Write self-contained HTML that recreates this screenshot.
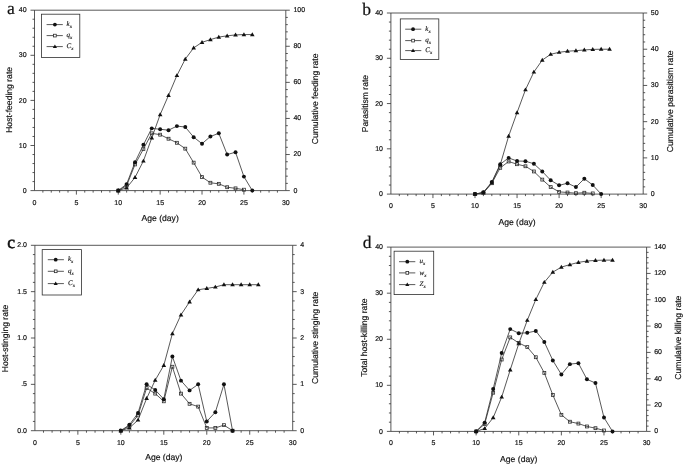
<!DOCTYPE html>
<html lang="en"><head><meta charset="utf-8"><title>Figure</title>
<style>
html,body{margin:0;padding:0;background:#fff;}
body{width:685px;height:467px;overflow:hidden;}
svg{display:block;filter:grayscale(1);}
text{font-family:"Liberation Sans",Arial,sans-serif;fill:#151515;text-rendering:geometricPrecision;}
.tk text{font-size:7.0px;stroke:#151515;stroke-width:.2px;}
.ax text{font-size:8.6px;stroke:#151515;stroke-width:.18px;}
.pl{font-family:"Liberation Serif","Times New Roman",serif;font-size:17.6px;fill:#111;stroke:#111;stroke-width:.2px;}
.lg{font-family:"Liberation Serif","Times New Roman",serif;font-style:italic;font-size:7px;stroke:#151515;stroke-width:.15px;}
.sb{font-size:5px;}
</style></head><body>
<svg width="685" height="467" viewBox="0 0 685 467">
<rect width="685" height="467" fill="#fff"/>
<g stroke="#2e2e2e" stroke-width="0.8" fill="none">
<path d="M34.5 10.2 V190.6 H285.8 V10.2 Z"/>
<path d="M42.88 190.6v2M51.25 190.6v2M59.63 190.6v2M68.01 190.6v2M76.38 190.6v4M84.76 190.6v2M93.14 190.6v2M101.51 190.6v2M109.89 190.6v2M118.27 190.6v4M126.64 190.6v2M135.02 190.6v2M143.4 190.6v2M151.77 190.6v2M160.15 190.6v4M168.53 190.6v2M176.9 190.6v2M185.28 190.6v2M193.66 190.6v2M202.03 190.6v4M210.41 190.6v2M218.79 190.6v2M227.16 190.6v2M235.54 190.6v2M243.92 190.6v4M252.29 190.6v2M260.67 190.6v2M269.05 190.6v2M277.42 190.6v2M34.5 190.6h-4M34.5 181.58h-2M34.5 172.56h-2M34.5 163.54h-2M34.5 154.52h-2M34.5 145.5h-4M34.5 136.48h-2M34.5 127.46h-2M34.5 118.44h-2M34.5 109.42h-2M34.5 100.4h-4M34.5 91.38h-2M34.5 82.36h-2M34.5 73.34h-2M34.5 64.32h-2M34.5 55.3h-4M34.5 46.28h-2M34.5 37.26h-2M34.5 28.24h-2M34.5 19.22h-2M34.5 10.2h-4M285.8 190.6h4M285.8 183.38h2M285.8 176.17h2M285.8 168.95h2M285.8 161.74h2M285.8 154.52h4M285.8 147.3h2M285.8 140.09h2M285.8 132.87h2M285.8 125.66h2M285.8 118.44h4M285.8 111.22h2M285.8 104.01h2M285.8 96.79h2M285.8 89.58h2M285.8 82.36h4M285.8 75.14h2M285.8 67.93h2M285.8 60.71h2M285.8 53.5h2M285.8 46.28h4M285.8 39.06h2M285.8 31.85h2M285.8 24.63h2M285.8 17.42h2M285.8 10.2h4"/>
</g>
<g class="tk">
<text x="34.5" y="204.8" text-anchor="middle">0</text>
<text x="76.38" y="204.8" text-anchor="middle">5</text>
<text x="118.27" y="204.8" text-anchor="middle">10</text>
<text x="160.15" y="204.8" text-anchor="middle">15</text>
<text x="202.03" y="204.8" text-anchor="middle">20</text>
<text x="243.92" y="204.8" text-anchor="middle">25</text>
<text x="285.8" y="204.8" text-anchor="middle">30</text>
<text x="26.6" y="192.7" text-anchor="end">0</text>
<text x="26.6" y="147.6" text-anchor="end">10</text>
<text x="26.6" y="102.5" text-anchor="end">20</text>
<text x="26.6" y="57.4" text-anchor="end">30</text>
<text x="26.6" y="12.3" text-anchor="end">40</text>
<text x="293.4" y="192.5">0</text>
<text x="293.4" y="156.42">20</text>
<text x="293.4" y="120.34">40</text>
<text x="293.4" y="84.26">60</text>
<text x="293.4" y="48.18">80</text>
<text x="293.4" y="12.1">100</text>
</g>
<g class="ax">
<text x="160.15" y="221" text-anchor="middle">Age (day)</text>
<text transform="translate(11.5 99.9) rotate(-90)" text-anchor="middle">Host-feeding rate</text>
<text transform="translate(317.5 98.9) rotate(-90)" text-anchor="middle">Cumulative feeding rate</text>
</g>
<text class="pl" x="7" y="14.4">a</text>
<g stroke="#2e2e2e" stroke-width="0.8" fill="none" stroke-linejoin="round">
<polyline points="118.27,190.6 126.64,187.89 135.02,177.43 143.4,161.01 151.77,137.92 160.15,114.65 168.53,95.35 176.9,75.5 185.28,59.09 193.66,47.9 202.03,42.31 210.41,39.61 218.79,37.08 227.16,35.82 235.54,34.91 243.92,34.55 252.29,34.55"/>
<polyline points="118.27,190.6 126.64,185.64 135.02,164.44 143.4,149.11 151.77,133.32 160.15,134.68 168.53,138.74 176.9,142.79 185.28,148.66 193.66,162.64 202.03,177.07 210.41,182.75 218.79,183.83 227.16,187.22 235.54,188.34 243.92,189.7"/>
<polyline points="118.27,190.6 126.64,184.11 135.02,162.19 143.4,144.82 151.77,128.36 160.15,129.26 168.53,130.17 176.9,126.11 185.28,127.01 193.66,137.16 202.03,143.7 210.41,136.48 218.79,133.32 227.16,154.52 235.54,152.26 243.92,176.62 252.29,190.6"/>
</g>
<g fill="#111">
<path d="M118.27 188.23l2.32 3.94h-4.64z"/>
<path d="M126.64 185.53l2.32 3.94h-4.64z"/>
<path d="M135.02 175.06l2.32 3.94h-4.64z"/>
<path d="M143.4 158.65l2.32 3.94h-4.64z"/>
<path d="M151.77 135.56l2.32 3.94h-4.64z"/>
<path d="M160.15 112.29l2.32 3.94h-4.64z"/>
<path d="M168.53 92.98l2.32 3.94h-4.64z"/>
<path d="M176.9 73.14l2.32 3.94h-4.64z"/>
<path d="M185.28 56.72l2.32 3.94h-4.64z"/>
<path d="M193.66 45.54l2.32 3.94h-4.64z"/>
<path d="M202.03 39.94l2.32 3.94h-4.64z"/>
<path d="M210.41 37.24l2.32 3.94h-4.64z"/>
<path d="M218.79 34.71l2.32 3.94h-4.64z"/>
<path d="M227.16 33.45l2.32 3.94h-4.64z"/>
<path d="M235.54 32.55l2.32 3.94h-4.64z"/>
<path d="M243.92 32.19l2.32 3.94h-4.64z"/>
<path d="M252.29 32.19l2.32 3.94h-4.64z"/>
</g><g fill="none" stroke="#2e2e2e" stroke-width="0.8">
<rect x="116.82" y="189.15" width="2.9" height="2.9"/>
<rect x="125.19" y="184.19" width="2.9" height="2.9"/>
<rect x="133.57" y="162.99" width="2.9" height="2.9"/>
<rect x="141.95" y="147.66" width="2.9" height="2.9"/>
<rect x="150.32" y="131.87" width="2.9" height="2.9"/>
<rect x="158.7" y="133.23" width="2.9" height="2.9"/>
<rect x="167.08" y="137.29" width="2.9" height="2.9"/>
<rect x="175.45" y="141.34" width="2.9" height="2.9"/>
<rect x="183.83" y="147.21" width="2.9" height="2.9"/>
<rect x="192.21" y="161.19" width="2.9" height="2.9"/>
<rect x="200.58" y="175.62" width="2.9" height="2.9"/>
<rect x="208.96" y="181.3" width="2.9" height="2.9"/>
<rect x="217.34" y="182.38" width="2.9" height="2.9"/>
<rect x="225.71" y="185.77" width="2.9" height="2.9"/>
<rect x="234.09" y="186.9" width="2.9" height="2.9"/>
<rect x="242.47" y="188.25" width="2.9" height="2.9"/>
</g><g fill="#111">
<circle cx="118.27" cy="190.6" r="1.98"/>
<circle cx="126.64" cy="184.11" r="1.98"/>
<circle cx="135.02" cy="162.19" r="1.98"/>
<circle cx="143.4" cy="144.82" r="1.98"/>
<circle cx="151.77" cy="128.36" r="1.98"/>
<circle cx="160.15" cy="129.26" r="1.98"/>
<circle cx="168.53" cy="130.17" r="1.98"/>
<circle cx="176.9" cy="126.11" r="1.98"/>
<circle cx="185.28" cy="127.01" r="1.98"/>
<circle cx="193.66" cy="137.16" r="1.98"/>
<circle cx="202.03" cy="143.7" r="1.98"/>
<circle cx="210.41" cy="136.48" r="1.98"/>
<circle cx="218.79" cy="133.32" r="1.98"/>
<circle cx="227.16" cy="154.52" r="1.98"/>
<circle cx="235.54" cy="152.26" r="1.98"/>
<circle cx="243.92" cy="176.62" r="1.98"/>
<circle cx="252.29" cy="190.6" r="1.98"/>
</g>
<rect x="41.4" y="14.2" width="38.4" height="43.2" fill="#fff" stroke="#2e2e2e" stroke-width="0.8"/>
<path d="M46.6 24.6H62.8" stroke="#2e2e2e" stroke-width="0.8"/>
<g fill="#111"><circle cx="54.9" cy="24.6" r="1.9"/></g>
<text class="lg" x="66.6" y="26.2">k<tspan class="sb" dy="2.1">x</tspan></text>
<path d="M46.6 35.6H62.8" stroke="#2e2e2e" stroke-width="0.8"/>
<g fill="#fff" stroke="#2e2e2e" stroke-width="0.8"><rect x="53.55" y="34.25" width="2.7" height="2.7"/></g>
<text class="lg" x="66.6" y="37.2">q<tspan class="sb" dy="2.1">x</tspan></text>
<path d="M46.6 46.6H62.8" stroke="#2e2e2e" stroke-width="0.8"/>
<g fill="#111"><path d="M54.9 44.48l2.08 3.54h-4.16z"/></g>
<text class="lg" x="66.6" y="48.2">C<tspan class="sb" dy="2.1">x</tspan></text>
<g stroke="#2e2e2e" stroke-width="0.8" fill="none">
<path d="M390.9 13 V194.1 H643.2 V13 Z"/>
<path d="M399.31 194.1v2M407.72 194.1v2M416.13 194.1v2M424.54 194.1v2M432.95 194.1v4M441.36 194.1v2M449.77 194.1v2M458.18 194.1v2M466.59 194.1v2M475 194.1v4M483.41 194.1v2M491.82 194.1v2M500.23 194.1v2M508.64 194.1v2M517.05 194.1v4M525.46 194.1v2M533.87 194.1v2M542.28 194.1v2M550.69 194.1v2M559.1 194.1v4M567.51 194.1v2M575.92 194.1v2M584.33 194.1v2M592.74 194.1v2M601.15 194.1v4M609.56 194.1v2M617.97 194.1v2M626.38 194.1v2M634.79 194.1v2M390.9 194.1h-4M390.9 185.04h-2M390.9 175.99h-2M390.9 166.94h-2M390.9 157.88h-2M390.9 148.82h-4M390.9 139.77h-2M390.9 130.71h-2M390.9 121.66h-2M390.9 112.61h-2M390.9 103.55h-4M390.9 94.5h-2M390.9 85.44h-2M390.9 76.39h-2M390.9 67.33h-2M390.9 58.28h-4M390.9 49.22h-2M390.9 40.16h-2M390.9 31.11h-2M390.9 22.05h-2M390.9 13h-4M643.2 194.1h4M643.2 186.86h2M643.2 179.61h2M643.2 172.37h2M643.2 165.12h2M643.2 157.88h4M643.2 150.64h2M643.2 143.39h2M643.2 136.15h2M643.2 128.9h2M643.2 121.66h4M643.2 114.42h2M643.2 107.17h2M643.2 99.93h2M643.2 92.68h2M643.2 85.44h4M643.2 78.2h2M643.2 70.95h2M643.2 63.71h2M643.2 56.46h2M643.2 49.22h4M643.2 41.98h2M643.2 34.73h2M643.2 27.49h2M643.2 20.24h2M643.2 13h4"/>
</g>
<g class="tk">
<text x="390.9" y="208" text-anchor="middle">0</text>
<text x="432.95" y="208" text-anchor="middle">5</text>
<text x="475" y="208" text-anchor="middle">10</text>
<text x="517.05" y="208" text-anchor="middle">15</text>
<text x="559.1" y="208" text-anchor="middle">20</text>
<text x="601.15" y="208" text-anchor="middle">25</text>
<text x="643.2" y="208" text-anchor="middle">30</text>
<text x="383" y="196.2" text-anchor="end">0</text>
<text x="383" y="150.92" text-anchor="end">10</text>
<text x="383" y="105.65" text-anchor="end">20</text>
<text x="383" y="60.38" text-anchor="end">30</text>
<text x="383" y="15.1" text-anchor="end">40</text>
<text x="650.8" y="196">0</text>
<text x="650.8" y="159.78">10</text>
<text x="650.8" y="123.56">20</text>
<text x="650.8" y="87.34">30</text>
<text x="650.8" y="51.12">40</text>
<text x="650.8" y="14.9">50</text>
</g>
<g class="ax">
<text x="517.05" y="224.5" text-anchor="middle">Age (day)</text>
<text transform="translate(367.7 103.5) rotate(-90)" text-anchor="middle">Parasitism rate</text>
<text transform="translate(672.7 101.3) rotate(-90)" text-anchor="middle">Cumulative parasitism rate</text>
</g>
<text class="pl" x="362.2" y="14.9">b</text>
<g stroke="#2e2e2e" stroke-width="0.8" fill="none" stroke-linejoin="round">
<polyline points="475,194.1 483.41,192.65 491.82,182.87 500.23,164.76 508.64,136.15 517.05,112.6 525.46,89.79 533.87,72.04 542.28,60.09 550.69,54.29 559.1,52.3 567.51,51.21 575.92,50.67 584.33,49.94 592.74,49.4 601.15,49.22 609.56,49.22"/>
<polyline points="475,194.1 483.41,192.74 491.82,183.23 500.23,167.84 508.64,161.5 517.05,164.22 525.46,166.26 533.87,171.46 542.28,179.61 550.69,187.08 559.1,191.84 567.51,192.52 575.92,193.19 584.33,192.74 592.74,193.42"/>
<polyline points="475,194.1 483.41,192.33 491.82,182.06 500.23,164.22 508.64,157.88 517.05,161.05 525.46,161.19 533.87,163.77 542.28,171.46 550.69,180.29 559.1,185.32 567.51,183.23 575.92,187.08 584.33,178.71 592.74,185.04 601.15,194.1"/>
</g>
<g fill="#111">
<path d="M475 191.73l2.32 3.94h-4.64z"/>
<path d="M483.41 190.28l2.32 3.94h-4.64z"/>
<path d="M491.82 180.51l2.32 3.94h-4.64z"/>
<path d="M500.23 162.4l2.32 3.94h-4.64z"/>
<path d="M508.64 133.78l2.32 3.94h-4.64z"/>
<path d="M517.05 110.24l2.32 3.94h-4.64z"/>
<path d="M525.46 87.42l2.32 3.94h-4.64z"/>
<path d="M533.87 69.67l2.32 3.94h-4.64z"/>
<path d="M542.28 57.72l2.32 3.94h-4.64z"/>
<path d="M550.69 51.92l2.32 3.94h-4.64z"/>
<path d="M559.1 49.93l2.32 3.94h-4.64z"/>
<path d="M567.51 48.85l2.32 3.94h-4.64z"/>
<path d="M575.92 48.3l2.32 3.94h-4.64z"/>
<path d="M584.33 47.58l2.32 3.94h-4.64z"/>
<path d="M592.74 47.03l2.32 3.94h-4.64z"/>
<path d="M601.15 46.85l2.32 3.94h-4.64z"/>
<path d="M609.56 46.85l2.32 3.94h-4.64z"/>
</g><g fill="none" stroke="#2e2e2e" stroke-width="0.8">
<rect x="473.55" y="192.65" width="2.9" height="2.9"/>
<rect x="481.96" y="191.29" width="2.9" height="2.9"/>
<rect x="490.37" y="181.78" width="2.9" height="2.9"/>
<rect x="498.78" y="166.39" width="2.9" height="2.9"/>
<rect x="507.19" y="160.05" width="2.9" height="2.9"/>
<rect x="515.6" y="162.77" width="2.9" height="2.9"/>
<rect x="524.01" y="164.81" width="2.9" height="2.9"/>
<rect x="532.42" y="170.01" width="2.9" height="2.9"/>
<rect x="540.83" y="178.16" width="2.9" height="2.9"/>
<rect x="549.24" y="185.63" width="2.9" height="2.9"/>
<rect x="557.65" y="190.39" width="2.9" height="2.9"/>
<rect x="566.06" y="191.07" width="2.9" height="2.9"/>
<rect x="574.47" y="191.74" width="2.9" height="2.9"/>
<rect x="582.88" y="191.29" width="2.9" height="2.9"/>
<rect x="591.29" y="191.97" width="2.9" height="2.9"/>
</g><g fill="#111">
<circle cx="475" cy="194.1" r="1.98"/>
<circle cx="483.41" cy="192.33" r="1.98"/>
<circle cx="491.82" cy="182.06" r="1.98"/>
<circle cx="500.23" cy="164.22" r="1.98"/>
<circle cx="508.64" cy="157.88" r="1.98"/>
<circle cx="517.05" cy="161.05" r="1.98"/>
<circle cx="525.46" cy="161.19" r="1.98"/>
<circle cx="533.87" cy="163.77" r="1.98"/>
<circle cx="542.28" cy="171.46" r="1.98"/>
<circle cx="550.69" cy="180.29" r="1.98"/>
<circle cx="559.1" cy="185.32" r="1.98"/>
<circle cx="567.51" cy="183.23" r="1.98"/>
<circle cx="575.92" cy="187.08" r="1.98"/>
<circle cx="584.33" cy="178.71" r="1.98"/>
<circle cx="592.74" cy="185.04" r="1.98"/>
<circle cx="601.15" cy="194.1" r="1.98"/>
</g>
<rect x="400.3" y="18.9" width="38.5" height="40.6" fill="#fff" stroke="#2e2e2e" stroke-width="0.8"/>
<path d="M405.2 29.2H421.3" stroke="#2e2e2e" stroke-width="0.8"/>
<g fill="#111"><circle cx="413.05" cy="29.2" r="1.9"/></g>
<text class="lg" x="425.3" y="30.8">k<tspan class="sb" dy="2.1">x</tspan></text>
<path d="M405.2 40.6H421.3" stroke="#2e2e2e" stroke-width="0.8"/>
<g fill="#fff" stroke="#2e2e2e" stroke-width="0.8"><rect x="411.7" y="39.25" width="2.7" height="2.7"/></g>
<text class="lg" x="425.3" y="42.2">q<tspan class="sb" dy="2.1">x</tspan></text>
<path d="M405.2 50.6H421.3" stroke="#2e2e2e" stroke-width="0.8"/>
<g fill="#111"><path d="M413.05 48.48l2.08 3.54h-4.16z"/></g>
<text class="lg" x="425.3" y="52.2">C<tspan class="sb" dy="2.1">x</tspan></text>
<g stroke="#2e2e2e" stroke-width="0.8" fill="none">
<path d="M34.9 245.3 V430.7 H292.7 V245.3 Z"/>
<path d="M43.49 430.7v2M52.09 430.7v2M60.68 430.7v2M69.27 430.7v2M77.87 430.7v4M86.46 430.7v2M95.05 430.7v2M103.65 430.7v2M112.24 430.7v2M120.83 430.7v4M129.43 430.7v2M138.02 430.7v2M146.61 430.7v2M155.21 430.7v2M163.8 430.7v4M172.39 430.7v2M180.99 430.7v2M189.58 430.7v2M198.17 430.7v2M206.77 430.7v4M215.36 430.7v2M223.95 430.7v2M232.55 430.7v2M241.14 430.7v2M249.73 430.7v4M258.33 430.7v2M266.92 430.7v2M275.51 430.7v2M284.11 430.7v2M34.9 430.7h-4M34.9 421.43h-2M34.9 412.16h-2M34.9 402.89h-2M34.9 393.62h-2M34.9 384.35h-4M34.9 375.08h-2M34.9 365.81h-2M34.9 356.54h-2M34.9 347.27h-2M34.9 338h-4M34.9 328.73h-2M34.9 319.46h-2M34.9 310.19h-2M34.9 300.92h-2M34.9 291.65h-4M34.9 282.38h-2M34.9 273.11h-2M34.9 263.84h-2M34.9 254.57h-2M34.9 245.3h-4M292.7 430.7h4M292.7 421.43h2M292.7 412.16h2M292.7 402.89h2M292.7 393.62h2M292.7 384.35h4M292.7 375.08h2M292.7 365.81h2M292.7 356.54h2M292.7 347.27h2M292.7 338h4M292.7 328.73h2M292.7 319.46h2M292.7 310.19h2M292.7 300.92h2M292.7 291.65h4M292.7 282.38h2M292.7 273.11h2M292.7 263.84h2M292.7 254.57h2M292.7 245.3h4"/>
</g>
<g class="tk">
<text x="34.9" y="445" text-anchor="middle">0</text>
<text x="77.87" y="445" text-anchor="middle">5</text>
<text x="120.83" y="445" text-anchor="middle">10</text>
<text x="163.8" y="445" text-anchor="middle">15</text>
<text x="206.77" y="445" text-anchor="middle">20</text>
<text x="249.73" y="445" text-anchor="middle">25</text>
<text x="292.7" y="445" text-anchor="middle">30</text>
<text x="27" y="432.8" text-anchor="end">0.0</text>
<text x="27" y="386.45" text-anchor="end">.5</text>
<text x="27" y="340.1" text-anchor="end">1.0</text>
<text x="27" y="293.75" text-anchor="end">1.5</text>
<text x="27" y="247.4" text-anchor="end">2.0</text>
<text x="300.3" y="432.6">0</text>
<text x="300.3" y="386.25">1</text>
<text x="300.3" y="339.9">2</text>
<text x="300.3" y="293.55">3</text>
<text x="300.3" y="247.2">4</text>
</g>
<g class="ax">
<text x="163.8" y="460.2" text-anchor="middle">Age (day)</text>
<text transform="translate(8.2 338.5) rotate(-90)" text-anchor="middle">Host-stinging rate</text>
<text transform="translate(317.7 337.8) rotate(-90)" text-anchor="middle">Cumulative stinging rate</text>
</g>
<text class="pl" style="stroke-width:.55px" x="7.2" y="247.6">c</text>
<g stroke="#2e2e2e" stroke-width="0.8" fill="none" stroke-linejoin="round">
<polyline points="120.83,430.7 129.43,427.92 138.02,420.04 146.61,398.49 155.21,380.18 163.8,365.35 172.39,333.6 180.99,314.82 189.58,301.85 198.17,289.8 206.77,288.41 215.36,287.01 223.95,284.7 232.55,284.7 241.14,284.7 249.73,284.7 258.33,284.7"/>
<polyline points="120.83,430.7 129.43,426.06 138.02,415.4 146.61,388.06 155.21,393.62 163.8,401.31 172.39,366.74 180.99,393.62 189.58,403.82 198.17,406.6 206.77,427.92 215.36,427.92 223.95,425.14 232.55,430.7"/>
<polyline points="120.83,430.7 129.43,424.77 138.02,413.09 146.61,384.35 155.21,389.91 163.8,399.18 172.39,356.54 180.99,380.64 189.58,390.38 198.17,384.35 206.77,421.43 215.36,412.16 223.95,384.35 232.55,430.7"/>
</g>
<g fill="#111">
<path d="M120.83 428.33l2.32 3.94h-4.64z"/>
<path d="M129.43 425.55l2.32 3.94h-4.64z"/>
<path d="M138.02 417.67l2.32 3.94h-4.64z"/>
<path d="M146.61 396.12l2.32 3.94h-4.64z"/>
<path d="M155.21 377.81l2.32 3.94h-4.64z"/>
<path d="M163.8 362.98l2.32 3.94h-4.64z"/>
<path d="M172.39 331.23l2.32 3.94h-4.64z"/>
<path d="M180.99 312.46l2.32 3.94h-4.64z"/>
<path d="M189.58 299.48l2.32 3.94h-4.64z"/>
<path d="M198.17 287.43l2.32 3.94h-4.64z"/>
<path d="M206.77 286.04l2.32 3.94h-4.64z"/>
<path d="M215.36 284.65l2.32 3.94h-4.64z"/>
<path d="M223.95 282.33l2.32 3.94h-4.64z"/>
<path d="M232.55 282.33l2.32 3.94h-4.64z"/>
<path d="M241.14 282.33l2.32 3.94h-4.64z"/>
<path d="M249.73 282.33l2.32 3.94h-4.64z"/>
<path d="M258.33 282.33l2.32 3.94h-4.64z"/>
</g><g fill="none" stroke="#2e2e2e" stroke-width="0.8">
<rect x="119.38" y="429.25" width="2.9" height="2.9"/>
<rect x="127.98" y="424.62" width="2.9" height="2.9"/>
<rect x="136.57" y="413.95" width="2.9" height="2.9"/>
<rect x="145.16" y="386.61" width="2.9" height="2.9"/>
<rect x="153.76" y="392.17" width="2.9" height="2.9"/>
<rect x="162.35" y="399.86" width="2.9" height="2.9"/>
<rect x="170.94" y="365.29" width="2.9" height="2.9"/>
<rect x="179.54" y="392.17" width="2.9" height="2.9"/>
<rect x="188.13" y="402.37" width="2.9" height="2.9"/>
<rect x="196.72" y="405.15" width="2.9" height="2.9"/>
<rect x="205.32" y="426.47" width="2.9" height="2.9"/>
<rect x="213.91" y="426.47" width="2.9" height="2.9"/>
<rect x="222.5" y="423.69" width="2.9" height="2.9"/>
<rect x="231.1" y="429.25" width="2.9" height="2.9"/>
</g><g fill="#111">
<circle cx="120.83" cy="430.7" r="1.98"/>
<circle cx="129.43" cy="424.77" r="1.98"/>
<circle cx="138.02" cy="413.09" r="1.98"/>
<circle cx="146.61" cy="384.35" r="1.98"/>
<circle cx="155.21" cy="389.91" r="1.98"/>
<circle cx="163.8" cy="399.18" r="1.98"/>
<circle cx="172.39" cy="356.54" r="1.98"/>
<circle cx="180.99" cy="380.64" r="1.98"/>
<circle cx="189.58" cy="390.38" r="1.98"/>
<circle cx="198.17" cy="384.35" r="1.98"/>
<circle cx="206.77" cy="421.43" r="1.98"/>
<circle cx="215.36" cy="412.16" r="1.98"/>
<circle cx="223.95" cy="384.35" r="1.98"/>
<circle cx="232.55" cy="430.7" r="1.98"/>
</g>
<rect x="42.2" y="249.6" width="39.2" height="45.4" fill="#fff" stroke="#2e2e2e" stroke-width="0.8"/>
<path d="M47.8 259.7H63.9" stroke="#2e2e2e" stroke-width="0.8"/>
<g fill="#111"><circle cx="55.7" cy="259.7" r="1.9"/></g>
<text class="lg" x="68" y="261.3">k<tspan class="sb" dy="2.1">x</tspan></text>
<path d="M47.8 271.3H63.9" stroke="#2e2e2e" stroke-width="0.8"/>
<g fill="#fff" stroke="#2e2e2e" stroke-width="0.8"><rect x="54.35" y="269.95" width="2.7" height="2.7"/></g>
<text class="lg" x="68" y="272.9">q<tspan class="sb" dy="2.1">x</tspan></text>
<path d="M47.8 283.6H63.9" stroke="#2e2e2e" stroke-width="0.8"/>
<g fill="#111"><path d="M55.7 281.48l2.08 3.54h-4.16z"/></g>
<text class="lg" x="68" y="285.2">C<tspan class="sb" dy="2.1">x</tspan></text>
<g stroke="#2e2e2e" stroke-width="0.8" fill="none">
<path d="M390.9 247.1 V431.4 H646.6 V247.1 Z"/>
<path d="M399.42 431.4v2M407.95 431.4v2M416.47 431.4v2M424.99 431.4v2M433.52 431.4v4M442.04 431.4v2M450.56 431.4v2M459.09 431.4v2M467.61 431.4v2M476.13 431.4v4M484.66 431.4v2M493.18 431.4v2M501.7 431.4v2M510.23 431.4v2M518.75 431.4v4M527.27 431.4v2M535.8 431.4v2M544.32 431.4v2M552.84 431.4v2M561.37 431.4v4M569.89 431.4v2M578.41 431.4v2M586.94 431.4v2M595.46 431.4v2M603.98 431.4v4M612.51 431.4v2M621.03 431.4v2M629.55 431.4v2M638.08 431.4v2M390.9 431.4h-4M390.9 422.19h-2M390.9 412.97h-2M390.9 403.75h-2M390.9 394.54h-2M390.9 385.32h-4M390.9 376.11h-2M390.9 366.89h-2M390.9 357.68h-2M390.9 348.46h-2M390.9 339.25h-4M390.9 330.03h-2M390.9 320.82h-2M390.9 311.61h-2M390.9 302.39h-2M390.9 293.18h-4M390.9 283.96h-2M390.9 274.75h-2M390.9 265.53h-2M390.9 256.31h-2M390.9 247.1h-4M646.6 431.4h4M646.6 426.13h2M646.6 420.87h2M646.6 415.6h2M646.6 410.34h2M646.6 405.07h4M646.6 399.81h2M646.6 394.54h2M646.6 389.27h2M646.6 384.01h2M646.6 378.74h4M646.6 373.48h2M646.6 368.21h2M646.6 362.95h2M646.6 357.68h2M646.6 352.41h4M646.6 347.15h2M646.6 341.88h2M646.6 336.62h2M646.6 331.35h2M646.6 326.09h4M646.6 320.82h2M646.6 315.55h2M646.6 310.29h2M646.6 305.02h2M646.6 299.76h4M646.6 294.49h2M646.6 289.23h2M646.6 283.96h2M646.6 278.69h2M646.6 273.43h4M646.6 268.16h2M646.6 262.9h2M646.6 257.63h2M646.6 252.37h2M646.6 247.1h4"/>
</g>
<g class="tk">
<text x="390.9" y="444.6" text-anchor="middle">0</text>
<text x="433.52" y="444.6" text-anchor="middle">5</text>
<text x="476.13" y="444.6" text-anchor="middle">10</text>
<text x="518.75" y="444.6" text-anchor="middle">15</text>
<text x="561.37" y="444.6" text-anchor="middle">20</text>
<text x="603.98" y="444.6" text-anchor="middle">25</text>
<text x="646.6" y="444.6" text-anchor="middle">30</text>
<text x="383" y="433.5" text-anchor="end">0</text>
<text x="383" y="387.43" text-anchor="end">10</text>
<text x="383" y="341.35" text-anchor="end">20</text>
<text x="383" y="295.28" text-anchor="end">30</text>
<text x="383" y="249.2" text-anchor="end">40</text>
<text x="654.2" y="433.3">0</text>
<text x="654.2" y="406.97">20</text>
<text x="654.2" y="380.64">40</text>
<text x="654.2" y="354.31">60</text>
<text x="654.2" y="327.99">80</text>
<text x="654.2" y="301.66">100</text>
<text x="654.2" y="275.33">120</text>
<text x="654.2" y="249">140</text>
</g>
<g class="ax">
<text x="518.75" y="461.8" text-anchor="middle">Age (day)</text>
<text transform="translate(367.1 337.6) rotate(-90)" text-anchor="middle">Total host-killing rate</text>
<text transform="translate(680.6 337.7) rotate(-90)" text-anchor="middle">Cumulative killing rate</text>
</g>
<text class="pl" x="362.8" y="247.6">d</text>
<g stroke="#2e2e2e" stroke-width="0.8" fill="none" stroke-linejoin="round">
<polyline points="476.13,431.4 484.66,428.5 493.18,417.71 501.7,397.04 510.23,369.92 518.75,343.73 527.27,320.29 535.8,299.49 544.32,282.25 552.84,272.11 561.37,267.11 569.89,264.61 578.41,262.37 586.94,261.05 595.46,260.4 603.98,260.13 612.51,260.13"/>
<polyline points="476.13,431.4 484.66,424.03 493.18,392.7 501.7,359.52 510.23,337.41 518.75,342.94 527.27,347.08 535.8,357.22 544.32,372.88 552.84,395 561.37,414.81 569.89,421.72 578.41,423.57 586.94,426.47 595.46,428.17 603.98,430.48"/>
<polyline points="476.13,431.4 484.66,422.65 493.18,389.01 501.7,353.07 510.23,329.11 518.75,333.26 527.27,332.8 535.8,330.96 544.32,342.01 552.84,360.44 561.37,374.5 569.89,364.13 578.41,363.21 586.94,379.34 595.46,383.02 603.98,417.58 612.51,431.4"/>
</g>
<g fill="#111">
<path d="M476.13 429.03l2.32 3.94h-4.64z"/>
<path d="M484.66 426.14l2.32 3.94h-4.64z"/>
<path d="M493.18 415.34l2.32 3.94h-4.64z"/>
<path d="M501.7 394.67l2.32 3.94h-4.64z"/>
<path d="M510.23 367.56l2.32 3.94h-4.64z"/>
<path d="M518.75 341.36l2.32 3.94h-4.64z"/>
<path d="M527.27 317.93l2.32 3.94h-4.64z"/>
<path d="M535.8 297.13l2.32 3.94h-4.64z"/>
<path d="M544.32 279.88l2.32 3.94h-4.64z"/>
<path d="M552.84 269.75l2.32 3.94h-4.64z"/>
<path d="M561.37 264.74l2.32 3.94h-4.64z"/>
<path d="M569.89 262.24l2.32 3.94h-4.64z"/>
<path d="M578.41 260l2.32 3.94h-4.64z"/>
<path d="M586.94 258.69l2.32 3.94h-4.64z"/>
<path d="M595.46 258.03l2.32 3.94h-4.64z"/>
<path d="M603.98 257.77l2.32 3.94h-4.64z"/>
<path d="M612.51 257.77l2.32 3.94h-4.64z"/>
</g><g fill="none" stroke="#2e2e2e" stroke-width="0.8">
<rect x="474.68" y="429.95" width="2.9" height="2.9"/>
<rect x="483.21" y="422.58" width="2.9" height="2.9"/>
<rect x="491.73" y="391.25" width="2.9" height="2.9"/>
<rect x="500.25" y="358.07" width="2.9" height="2.9"/>
<rect x="508.78" y="335.96" width="2.9" height="2.9"/>
<rect x="517.3" y="341.49" width="2.9" height="2.9"/>
<rect x="525.82" y="345.63" width="2.9" height="2.9"/>
<rect x="534.35" y="355.77" width="2.9" height="2.9"/>
<rect x="542.87" y="371.43" width="2.9" height="2.9"/>
<rect x="551.39" y="393.55" width="2.9" height="2.9"/>
<rect x="559.92" y="413.36" width="2.9" height="2.9"/>
<rect x="568.44" y="420.27" width="2.9" height="2.9"/>
<rect x="576.96" y="422.12" width="2.9" height="2.9"/>
<rect x="585.49" y="425.02" width="2.9" height="2.9"/>
<rect x="594.01" y="426.72" width="2.9" height="2.9"/>
<rect x="602.53" y="429.03" width="2.9" height="2.9"/>
</g><g fill="#111">
<circle cx="476.13" cy="431.4" r="1.98"/>
<circle cx="484.66" cy="422.65" r="1.98"/>
<circle cx="493.18" cy="389.01" r="1.98"/>
<circle cx="501.7" cy="353.07" r="1.98"/>
<circle cx="510.23" cy="329.11" r="1.98"/>
<circle cx="518.75" cy="333.26" r="1.98"/>
<circle cx="527.27" cy="332.8" r="1.98"/>
<circle cx="535.8" cy="330.96" r="1.98"/>
<circle cx="544.32" cy="342.01" r="1.98"/>
<circle cx="552.84" cy="360.44" r="1.98"/>
<circle cx="561.37" cy="374.5" r="1.98"/>
<circle cx="569.89" cy="364.13" r="1.98"/>
<circle cx="578.41" cy="363.21" r="1.98"/>
<circle cx="586.94" cy="379.34" r="1.98"/>
<circle cx="595.46" cy="383.02" r="1.98"/>
<circle cx="603.98" cy="417.58" r="1.98"/>
<circle cx="612.51" cy="431.4" r="1.98"/>
</g>
<rect x="394.1" y="251.2" width="39.6" height="43.4" fill="#fff" stroke="#2e2e2e" stroke-width="0.8"/>
<path d="M399 261.7H415.3" stroke="#2e2e2e" stroke-width="0.8"/>
<g fill="#111"><circle cx="407.3" cy="261.7" r="1.9"/></g>
<text class="lg" x="419.5" y="263.3">u<tspan class="sb" dy="2.1">x</tspan></text>
<path d="M399 272.9H415.3" stroke="#2e2e2e" stroke-width="0.8"/>
<g fill="#fff" stroke="#2e2e2e" stroke-width="0.8"><rect x="405.95" y="271.55" width="2.7" height="2.7"/></g>
<text class="lg" x="419.5" y="274.5">w<tspan class="sb" dy="2.1">x</tspan></text>
<path d="M399 284.6H415.3" stroke="#2e2e2e" stroke-width="0.8"/>
<g fill="#111"><path d="M407.3 282.48l2.08 3.54h-4.16z"/></g>
<text class="lg" x="419.5" y="286.2">Z<tspan class="sb" dy="2.1">x</tspan></text>
</svg>
</body></html>
